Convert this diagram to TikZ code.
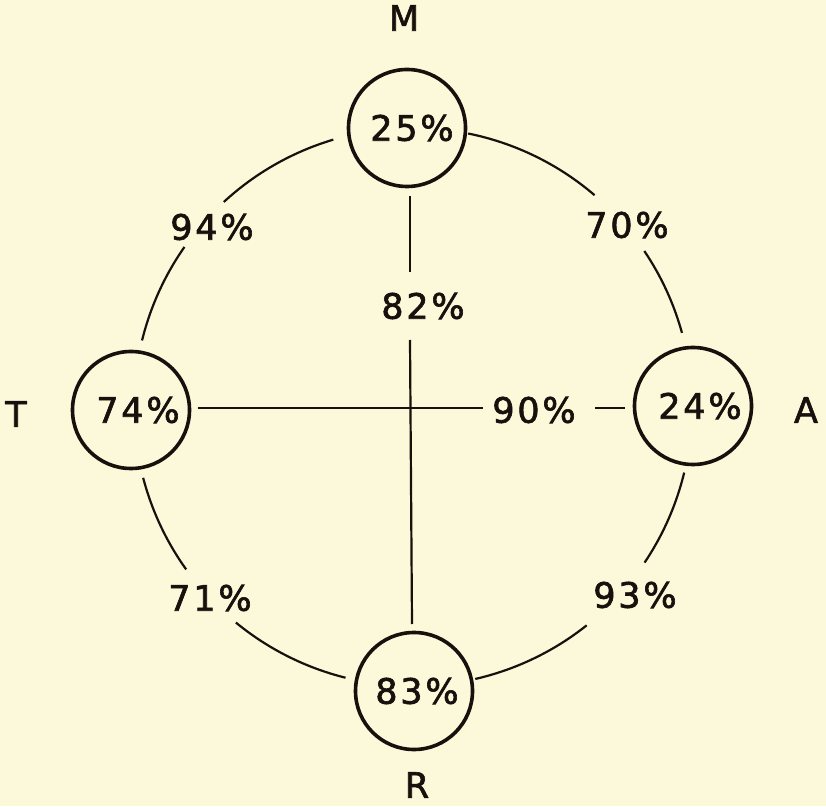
\documentclass[tikz,border=0pt]{standalone}
\usepackage{fontspec}
\setmainfont{DejaVu Sans}[LetterSpace=8, FakeBold=1.8]
\usetikzlibrary{calc}
\definecolor{paper}{RGB}{252,249,219}
\definecolor{ink}{RGB}{24,16,12}
\begin{document}
\begin{tikzpicture}[x=1pt,y=1pt,
  every node/.style={font=\fontsize{35}{38}\selectfont, text=ink},
  ring/.style={circle, draw=ink, line width=3.6pt, minimum size=117pt, inner sep=0pt},
  pct/.style={inner sep=0pt},
  conn/.style={draw=ink, line width=2.2pt}]
\fill[paper] (0,0) rectangle (826,806);
\useasboundingbox (0,0) rectangle (826,806);
% circles
\node[ring] (M) at (407,678) {\hspace*{10pt}25\%};
\node[ring] (T) at (131,396) {\hspace*{14pt}74\%};
\node[ring] (A) at (693,400) {\hspace*{14pt}24\%};
\node[ring] (R) at (414,115) {\hspace*{6pt}83\%};
% letters
\node (lM) at (404,788) {M};
\node (lT) at (16,392) {T};
\node (lA) at (806,396) {A};
\node (lR) at (417,21) {R};
% percentage labels
\node[pct] (l70) at (627,581) {70\%};
\node[pct] (l94) at (212,579) {94\%};
\node[pct] (l71) at (210,208) {71\%};
\node[pct] (l93) at (635,211) {93\%};
\node[pct] (l82) at (423,500) {82\%};
\node[pct] (l90) at (534,396) {90\%};
% ring centre
\coordinate (O) at (413,399);
% arcs
\draw[conn] ($(O)+(78.6:279)$) arc[start angle=78.6, end angle=49.4, radius=279];
\draw[conn] ($(O)+(34.0:279)$) arc[start angle=34.0, end angle=15.4, radius=279];
\draw[conn] ($(O)+(-13.6:279)$) arc[start angle=-13.6, end angle=-33.9, radius=279];
\draw[conn] ($(O)+(-51.5:279)$) arc[start angle=-51.5, end angle=-77.1, radius=279];
\draw[conn] ($(O)+(-104.0:279)$) arc[start angle=-104.0, end angle=-129.4, radius=279];
\draw[conn] ($(O)+(-144.4:279)$) arc[start angle=-144.4, end angle=-165.3, radius=279];
\draw[conn] ($(O)+(166.2:279)$) arc[start angle=166.2, end angle=145.0, radius=279];
\draw[conn] ($(O)+(132.7:279)$) arc[start angle=132.7, end angle=106.6, radius=279];
% straight connectors
\coordinate (v1) at (410,610);
\coordinate (v2) at (410,534);
\coordinate (v3) at (410,466);
\coordinate (v4) at (412,182);
\coordinate (h1) at (198,398);
\coordinate (h2) at (483,398);
\coordinate (h3) at (595,398);
\coordinate (h4) at (625,398);
\draw[conn] (v1) -- (v2);
\draw[conn] (v3) -- (v4);
\draw[conn] (h1) -- (h2);
\draw[conn] (h3) -- (h4);
\end{tikzpicture}
\end{document}
